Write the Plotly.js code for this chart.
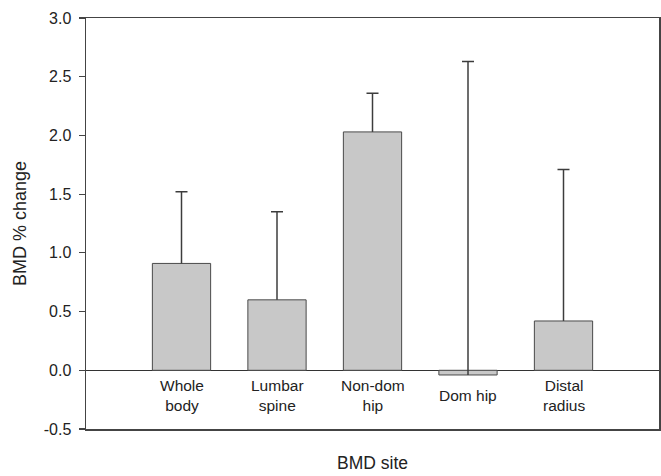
<!DOCTYPE html>
<html>
<head>
<meta charset="utf-8">
<script src="https://cdn.plot.ly/plotly-3.0.1.min.js"></script>
<style>html,body{margin:0;padding:0;background:#fff;}#chart{width:661px;height:476px;}</style>
</head>
<body>
<div id="chart"></div>
<script>
var categories = ["Whole<br>body", "Lumbar<br>spine", "Non-dom<br>hip", "Dom hip", "Distal<br>radius"];
var bmdChange = [0.91, 0.60, 2.03, -0.04, 0.42];
var errorPlus = [0.61, 0.75, 0.33, 2.67, 1.29];
var yTicks = [-0.5, 0.0, 0.5, 1.0, 1.5, 2.0, 2.5, 3.0];
var yTickLabels = ["-0.5", "0.0", "0.5", "1.0", "1.5", "2.0", "2.5", "3.0"];

var xIdx = categories.map(function(_, i){ return i; });
var zeros = categories.map(function(){ return 0; });
var errTop = bmdChange.map(function(v, i){ return v + errorPlus[i]; });
var font = "Liberation Sans, Arial, sans-serif";
var ink = "#3c3c3c";

var bars = {
  type: "bar",
  x: xIdx,
  y: bmdChange,
  width: 0.61,
  marker: {color: "#c8c8c8", line: {color: "#4a4a4a", width: 1}},
  error_y: {type: "data", symmetric: false, array: errorPlus, arrayminus: zeros,
            color: ink, thickness: 1.5, width: 0},
  hoverinfo: "none"
};

var caps = {
  type: "scatter",
  mode: "markers",
  x: xIdx,
  y: errTop,
  marker: {size: 1, opacity: 0},
  error_y: {type: "data", symmetric: true, array: zeros, color: ink, thickness: 1.5, width: 6},
  hoverinfo: "none"
};

var labelAnns = categories.map(function(c, i){
  return {text: c, x: xIdx[i], y: 0, xref: "x", yref: "y", xanchor: "center", yanchor: "middle",
          yshift: -25, showarrow: false, font: {family: font, size: 15.5, color: "#222"}};
});

var layout = {
  width: 661, height: 476,
  margin: {l: 86, r: 2, t: 18, b: 47},
  paper_bgcolor: "#fff", plot_bgcolor: "#fff",
  showlegend: false,
  font: {family: font, color: "#222", size: 16},
  xaxis: {
    range: [-1, 5],
    showticklabels: false,
    showline: true, linecolor: "#444", linewidth: 1.5, mirror: true,
    showgrid: false, zeroline: false, ticks: "",
    fixedrange: true
  },
  yaxis: {
    range: [-0.5, 3.0],
    tickvals: yTicks, ticktext: yTickLabels,
    showgrid: false,
    zeroline: true, zerolinecolor: "#333", zerolinewidth: 1.2,
    showline: true, linecolor: "#444", linewidth: 1.5, mirror: true,
    ticks: "outside", ticklen: 6, tickwidth: 1.2, tickcolor: "#444",
    ticklabelstandoff: 4,
    tickfont: {family: font, size: 16, color: "#222"},
    title: {text: "BMD % change", font: {family: font, size: 18, color: "#222"}, standoff: 12},
    fixedrange: true
  },
  annotations: labelAnns.concat([
    {text: "BMD site", xref: "paper", yref: "paper", x: 0.5, y: -0.083, xanchor: "center", yanchor: "middle",
     showarrow: false, font: {family: font, size: 17.5, color: "#222"}}
  ])
};

Plotly.newPlot("chart", [bars, caps], layout, {displayModeBar: false, staticPlot: true});
</script>
</body>
</html>
